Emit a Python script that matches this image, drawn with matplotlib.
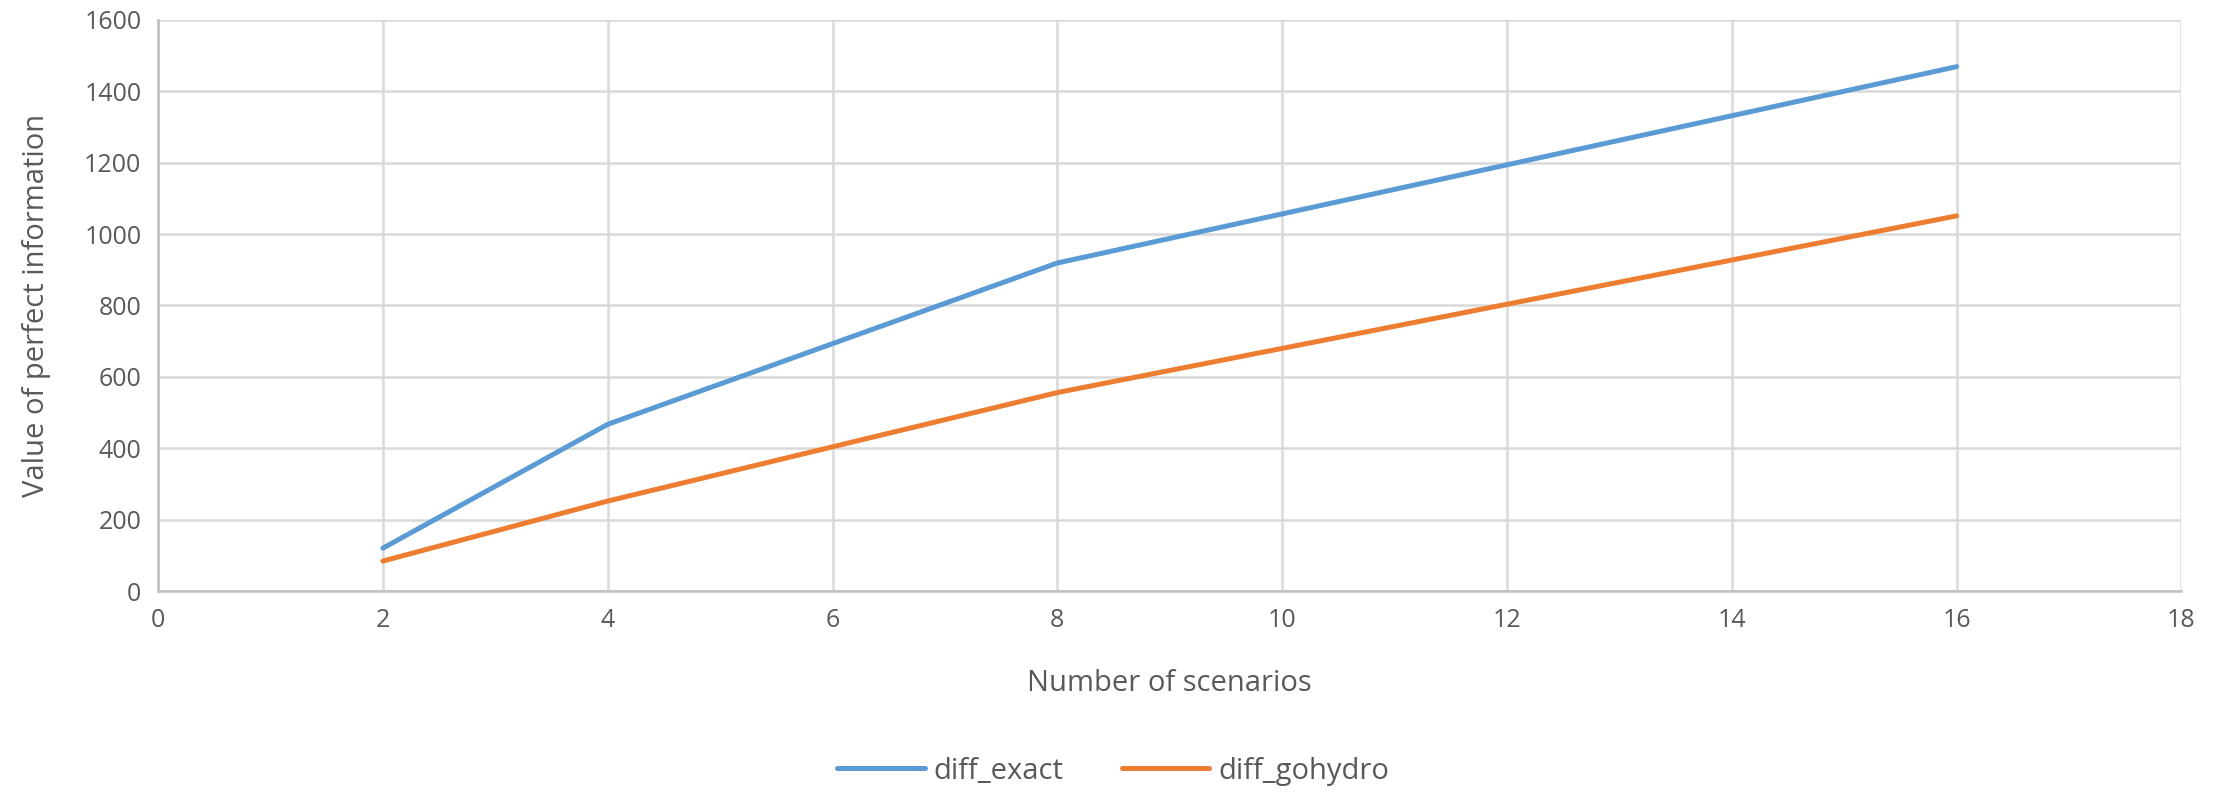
import matplotlib
matplotlib.use("Agg")
import matplotlib.pyplot as plt

# data
scenarios = [2, 4, 8, 16]
diff_exact = [120, 467, 919, 1469]
diff_gohydro = [84, 252, 556, 1051]

x_ticks = list(range(0, 19, 2))
y_ticks = list(range(0, 1601, 200))

plt.rcParams['font.family'] = ['Open Sans', 'DejaVu Sans']

fig = plt.figure(figsize=(22.26, 7.96), dpi=100)
ax = fig.add_axes([0.071, 0.2575, 0.909, 0.7175])

ax.plot(scenarios, diff_exact, color='#5B9BD5', lw=3.6, solid_capstyle='round', label='diff_exact', zorder=3)
ax.plot(scenarios, diff_gohydro, color='#ED7D31', lw=3.6, solid_capstyle='round', label='diff_gohydro', zorder=3)

ax.set_xlim(0, 18)
ax.set_ylim(0, 1600)
ax.set_xticks(x_ticks)
ax.set_yticks(y_ticks)
ax.grid(True, color='#d9d9d9', lw=1.8)
ax.set_axisbelow(True)

for s in ['top', 'right']:
    ax.spines[s].set_visible(False)
for s in ['left', 'bottom']:
    ax.spines[s].set_color('#bfbfbf')
    ax.spines[s].set_linewidth(1.8)

ax.tick_params(length=0, labelsize=18, colors='#595959', pad=12)
ax.set_xlabel('Number of scenarios', fontsize=21, color='#595959', labelpad=26)
ax.set_ylabel('Value of perfect information', fontsize=21, color='#595959', labelpad=24)

leg = fig.legend(loc='lower center', bbox_to_anchor=(0.5, -0.02), ncol=2, frameon=False,
                 fontsize=21, handlelength=3.0, columnspacing=2.0, handletextpad=0.3)
for t in leg.get_texts():
    t.set_color('#595959')

fig.savefig('out.png', dpi=100)
